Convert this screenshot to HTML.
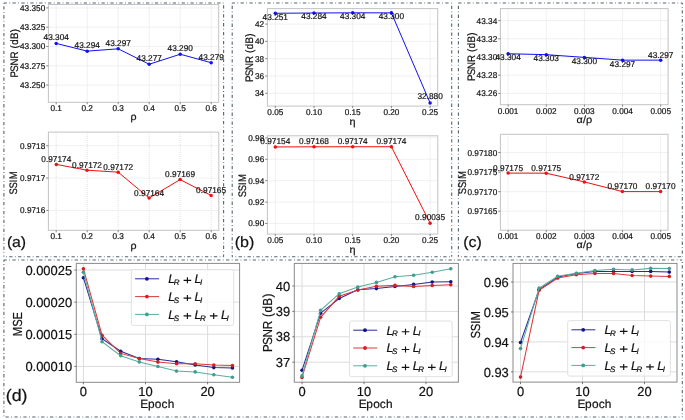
<!DOCTYPE html>
<html><head><meta charset="utf-8"><style>
html,body{margin:0;padding:0;background:#fff;}
svg{display:block;font-family:"Liberation Sans", sans-serif;will-change:transform;filter:blur(0.3px);}
text{stroke:#111;stroke-width:0.2px;text-rendering:geometricPrecision;}
</style></head><body>
<svg width="685" height="420" viewBox="0 0 685 420">
<rect width="685" height="420" fill="#fff"/>
<line x1="3.9" y1="3.0" x2="223.6" y2="3.0" stroke="#34495a" stroke-width="1.1" stroke-dasharray="3.3 2.4 0.8 2.4" stroke-dashoffset="0.3" opacity="0.85"/>
<line x1="3.9" y1="256.8" x2="223.6" y2="256.8" stroke="#34495a" stroke-width="1.1" stroke-dasharray="3.3 2.4 0.8 2.4" stroke-dashoffset="3.6" opacity="0.85"/>
<line x1="3.9" y1="3.0" x2="3.9" y2="256.8" stroke="#34495a" stroke-width="1.1" stroke-dasharray="3.3 2.4 0.8 2.4" stroke-dashoffset="5.7" opacity="0.85"/>
<line x1="223.6" y1="3.0" x2="223.6" y2="256.8" stroke="#34495a" stroke-width="1.1" stroke-dasharray="3.3 2.4 0.8 2.4" stroke-dashoffset="6.6" opacity="0.85"/>
<line x1="56.20" y1="4.5" x2="56.20" y2="102.3" stroke="#d4d4d4" stroke-width="0.75" stroke-dasharray="0.9 1.1"/>
<line x1="87.20" y1="4.5" x2="87.20" y2="102.3" stroke="#d4d4d4" stroke-width="0.75" stroke-dasharray="0.9 1.1"/>
<line x1="118.20" y1="4.5" x2="118.20" y2="102.3" stroke="#d4d4d4" stroke-width="0.75" stroke-dasharray="0.9 1.1"/>
<line x1="149.20" y1="4.5" x2="149.20" y2="102.3" stroke="#d4d4d4" stroke-width="0.75" stroke-dasharray="0.9 1.1"/>
<line x1="180.20" y1="4.5" x2="180.20" y2="102.3" stroke="#d4d4d4" stroke-width="0.75" stroke-dasharray="0.9 1.1"/>
<line x1="211.20" y1="4.5" x2="211.20" y2="102.3" stroke="#d4d4d4" stroke-width="0.75" stroke-dasharray="0.9 1.1"/>
<line x1="48.4" y1="7.90" x2="218.7" y2="7.90" stroke="#d4d4d4" stroke-width="0.75" stroke-dasharray="0.9 1.1"/>
<line x1="48.4" y1="27.20" x2="218.7" y2="27.20" stroke="#d4d4d4" stroke-width="0.75" stroke-dasharray="0.9 1.1"/>
<line x1="48.4" y1="46.50" x2="218.7" y2="46.50" stroke="#d4d4d4" stroke-width="0.75" stroke-dasharray="0.9 1.1"/>
<line x1="48.4" y1="65.80" x2="218.7" y2="65.80" stroke="#d4d4d4" stroke-width="0.75" stroke-dasharray="0.9 1.1"/>
<line x1="48.4" y1="85.10" x2="218.7" y2="85.10" stroke="#d4d4d4" stroke-width="0.75" stroke-dasharray="0.9 1.1"/>
<rect x="48.4" y="4.5" width="170.30" height="97.80" fill="none" stroke="#c4c4c4" stroke-width="1"/>
<line x1="56.20" y1="102.3" x2="56.20" y2="104.3" stroke="#555" stroke-width="0.7"/>
<g transform="translate(56.20,111.29)"><text transform="scale(0.9862,1)" x="-5.81 -1.16 1.16" y="0" font-size="8.35" fill="#111">0.1</text></g>
<line x1="87.20" y1="102.3" x2="87.20" y2="104.3" stroke="#555" stroke-width="0.7"/>
<g transform="translate(87.20,111.29)"><text transform="scale(0.9862,1)" x="-5.81 -1.16 1.16" y="0" font-size="8.35" fill="#111">0.2</text></g>
<line x1="118.20" y1="102.3" x2="118.20" y2="104.3" stroke="#555" stroke-width="0.7"/>
<g transform="translate(118.20,111.29)"><text transform="scale(0.9862,1)" x="-5.81 -1.16 1.16" y="0" font-size="8.35" fill="#111">0.3</text></g>
<line x1="149.20" y1="102.3" x2="149.20" y2="104.3" stroke="#555" stroke-width="0.7"/>
<g transform="translate(149.20,111.29)"><text transform="scale(0.9862,1)" x="-5.81 -1.16 1.16" y="0" font-size="8.35" fill="#111">0.4</text></g>
<line x1="180.20" y1="102.3" x2="180.20" y2="104.3" stroke="#555" stroke-width="0.7"/>
<g transform="translate(180.20,111.29)"><text transform="scale(0.9862,1)" x="-5.81 -1.16 1.16" y="0" font-size="8.35" fill="#111">0.5</text></g>
<line x1="211.20" y1="102.3" x2="211.20" y2="104.3" stroke="#555" stroke-width="0.7"/>
<g transform="translate(211.20,111.29)"><text transform="scale(0.9862,1)" x="-5.81 -1.16 1.16" y="0" font-size="8.35" fill="#111">0.6</text></g>
<line x1="46.20" y1="7.90" x2="48.4" y2="7.90" stroke="#555" stroke-width="0.7"/>
<g transform="translate(45.20,10.89)"><text transform="scale(0.9862,1)" x="-25.55 -20.90 -16.26 -13.93 -9.29 -4.64" y="0" font-size="8.35" fill="#111">43.350</text></g>
<line x1="46.20" y1="27.20" x2="48.4" y2="27.20" stroke="#555" stroke-width="0.7"/>
<g transform="translate(45.20,30.19)"><text transform="scale(0.9862,1)" x="-25.55 -20.90 -16.26 -13.93 -9.29 -4.64" y="0" font-size="8.35" fill="#111">43.325</text></g>
<line x1="46.20" y1="46.50" x2="48.4" y2="46.50" stroke="#555" stroke-width="0.7"/>
<g transform="translate(45.20,49.49)"><text transform="scale(0.9862,1)" x="-25.55 -20.90 -16.26 -13.93 -9.29 -4.64" y="0" font-size="8.35" fill="#111">43.300</text></g>
<line x1="46.20" y1="65.80" x2="48.4" y2="65.80" stroke="#555" stroke-width="0.7"/>
<g transform="translate(45.20,68.79)"><text transform="scale(0.9862,1)" x="-25.55 -20.90 -16.26 -13.93 -9.29 -4.64" y="0" font-size="8.35" fill="#111">43.275</text></g>
<line x1="46.20" y1="85.10" x2="48.4" y2="85.10" stroke="#555" stroke-width="0.7"/>
<g transform="translate(45.20,88.09)"><text transform="scale(0.9862,1)" x="-25.55 -20.90 -16.26 -13.93 -9.29 -4.64" y="0" font-size="8.35" fill="#111">43.250</text></g>
<g transform="translate(133.60,120.43)"><text transform="scale(1.0332,1)" x="-2.92" y="0" font-size="10.26" fill="#111">ρ</text></g>
<g transform="translate(13.80,53.00) rotate(-90) translate(0,3.74)"><text transform="scale(0.9008,1)" x="-27.34 -20.81 -13.82 -6.21 1.55 4.98 9.17 15.53 23.02" y="0" font-size="10.88" fill="#111">PSNR (dB)</text></g>
<path d="M56.20,43.41 L87.20,51.13 L118.20,48.82 L149.20,64.26 L180.20,54.22 L211.20,62.71" fill="none" stroke="#1010f0" stroke-width="1.0"/>
<circle cx="56.20" cy="43.41" r="1.75" fill="#1010f0"/>
<circle cx="87.20" cy="51.13" r="1.75" fill="#1010f0"/>
<circle cx="118.20" cy="48.82" r="1.75" fill="#1010f0"/>
<circle cx="149.20" cy="64.26" r="1.75" fill="#1010f0"/>
<circle cx="180.20" cy="54.22" r="1.75" fill="#1010f0"/>
<circle cx="211.20" cy="62.71" r="1.75" fill="#1010f0"/>
<g transform="translate(56.20,40.21)"><text transform="scale(0.9862,1)" x="-12.86 -8.18 -3.51 -1.17 3.51 8.18" y="0" font-size="8.41" fill="#111">43.304</text></g>
<g transform="translate(87.20,47.93)"><text transform="scale(0.9862,1)" x="-12.86 -8.18 -3.51 -1.17 3.51 8.18" y="0" font-size="8.41" fill="#111">43.294</text></g>
<g transform="translate(118.20,45.62)"><text transform="scale(0.9862,1)" x="-12.86 -8.18 -3.51 -1.17 3.51 8.18" y="0" font-size="8.41" fill="#111">43.297</text></g>
<g transform="translate(149.20,61.06)"><text transform="scale(0.9862,1)" x="-12.86 -8.18 -3.51 -1.17 3.51 8.18" y="0" font-size="8.41" fill="#111">43.277</text></g>
<g transform="translate(180.20,51.02)"><text transform="scale(0.9862,1)" x="-12.86 -8.18 -3.51 -1.17 3.51 8.18" y="0" font-size="8.41" fill="#111">43.290</text></g>
<g transform="translate(211.20,59.51)"><text transform="scale(0.9862,1)" x="-12.86 -8.18 -3.51 -1.17 3.51 8.18" y="0" font-size="8.41" fill="#111">43.279</text></g>
<line x1="56.20" y1="132.1" x2="56.20" y2="230.3" stroke="#d4d4d4" stroke-width="0.75" stroke-dasharray="0.9 1.1"/>
<line x1="87.20" y1="132.1" x2="87.20" y2="230.3" stroke="#d4d4d4" stroke-width="0.75" stroke-dasharray="0.9 1.1"/>
<line x1="118.20" y1="132.1" x2="118.20" y2="230.3" stroke="#d4d4d4" stroke-width="0.75" stroke-dasharray="0.9 1.1"/>
<line x1="149.20" y1="132.1" x2="149.20" y2="230.3" stroke="#d4d4d4" stroke-width="0.75" stroke-dasharray="0.9 1.1"/>
<line x1="180.20" y1="132.1" x2="180.20" y2="230.3" stroke="#d4d4d4" stroke-width="0.75" stroke-dasharray="0.9 1.1"/>
<line x1="211.20" y1="132.1" x2="211.20" y2="230.3" stroke="#d4d4d4" stroke-width="0.75" stroke-dasharray="0.9 1.1"/>
<line x1="48.4" y1="145.70" x2="218.8" y2="145.70" stroke="#d4d4d4" stroke-width="0.75" stroke-dasharray="0.9 1.1"/>
<line x1="48.4" y1="178.05" x2="218.8" y2="178.05" stroke="#d4d4d4" stroke-width="0.75" stroke-dasharray="0.9 1.1"/>
<line x1="48.4" y1="210.40" x2="218.8" y2="210.40" stroke="#d4d4d4" stroke-width="0.75" stroke-dasharray="0.9 1.1"/>
<rect x="48.4" y="132.1" width="170.40" height="98.20" fill="none" stroke="#c4c4c4" stroke-width="1"/>
<line x1="56.20" y1="230.3" x2="56.20" y2="232.3" stroke="#555" stroke-width="0.7"/>
<g transform="translate(56.20,239.29)"><text transform="scale(0.9862,1)" x="-5.81 -1.16 1.16" y="0" font-size="8.35" fill="#111">0.1</text></g>
<line x1="87.20" y1="230.3" x2="87.20" y2="232.3" stroke="#555" stroke-width="0.7"/>
<g transform="translate(87.20,239.29)"><text transform="scale(0.9862,1)" x="-5.81 -1.16 1.16" y="0" font-size="8.35" fill="#111">0.2</text></g>
<line x1="118.20" y1="230.3" x2="118.20" y2="232.3" stroke="#555" stroke-width="0.7"/>
<g transform="translate(118.20,239.29)"><text transform="scale(0.9862,1)" x="-5.81 -1.16 1.16" y="0" font-size="8.35" fill="#111">0.3</text></g>
<line x1="149.20" y1="230.3" x2="149.20" y2="232.3" stroke="#555" stroke-width="0.7"/>
<g transform="translate(149.20,239.29)"><text transform="scale(0.9862,1)" x="-5.81 -1.16 1.16" y="0" font-size="8.35" fill="#111">0.4</text></g>
<line x1="180.20" y1="230.3" x2="180.20" y2="232.3" stroke="#555" stroke-width="0.7"/>
<g transform="translate(180.20,239.29)"><text transform="scale(0.9862,1)" x="-5.81 -1.16 1.16" y="0" font-size="8.35" fill="#111">0.5</text></g>
<line x1="211.20" y1="230.3" x2="211.20" y2="232.3" stroke="#555" stroke-width="0.7"/>
<g transform="translate(211.20,239.29)"><text transform="scale(0.9862,1)" x="-5.81 -1.16 1.16" y="0" font-size="8.35" fill="#111">0.6</text></g>
<line x1="46.20" y1="145.70" x2="48.4" y2="145.70" stroke="#555" stroke-width="0.7"/>
<g transform="translate(45.20,148.69)"><text transform="scale(0.9862,1)" x="-25.55 -20.90 -18.58 -13.93 -9.29 -4.64" y="0" font-size="8.35" fill="#111">0.9718</text></g>
<line x1="46.20" y1="178.05" x2="48.4" y2="178.05" stroke="#555" stroke-width="0.7"/>
<g transform="translate(45.20,181.04)"><text transform="scale(0.9862,1)" x="-25.55 -20.90 -18.58 -13.93 -9.29 -4.64" y="0" font-size="8.35" fill="#111">0.9717</text></g>
<line x1="46.20" y1="210.40" x2="48.4" y2="210.40" stroke="#555" stroke-width="0.7"/>
<g transform="translate(45.20,213.39)"><text transform="scale(0.9862,1)" x="-25.55 -20.90 -18.58 -13.93 -9.29 -4.64" y="0" font-size="8.35" fill="#111">0.9716</text></g>
<g transform="translate(133.60,248.83)"><text transform="scale(1.0332,1)" x="-2.92" y="0" font-size="10.26" fill="#111">ρ</text></g>
<g transform="translate(13.60,182.80) rotate(-90) translate(0,3.74)"><text transform="scale(0.8672,1)" x="-13.44 -6.49 0.72 4.04" y="0" font-size="10.88" fill="#111">SSIM</text></g>
<path d="M56.30,164.40 L87.00,170.20 L118.20,172.20 L149.10,198.00 L180.10,179.60 L211.10,195.40" fill="none" stroke="#f01010" stroke-width="1.0"/>
<circle cx="56.30" cy="164.40" r="1.75" fill="#f01010"/>
<circle cx="87.00" cy="170.20" r="1.75" fill="#f01010"/>
<circle cx="118.20" cy="172.20" r="1.75" fill="#f01010"/>
<circle cx="149.10" cy="198.00" r="1.75" fill="#f01010"/>
<circle cx="180.10" cy="179.60" r="1.75" fill="#f01010"/>
<circle cx="211.10" cy="195.40" r="1.75" fill="#f01010"/>
<g transform="translate(56.30,161.90)"><text transform="scale(0.9862,1)" x="-15.20 -10.52 -8.19 -3.51 1.17 5.85 10.52" y="0" font-size="8.41" fill="#111">0.97174</text></g>
<g transform="translate(87.00,167.70)"><text transform="scale(0.9862,1)" x="-15.20 -10.52 -8.19 -3.51 1.17 5.85 10.52" y="0" font-size="8.41" fill="#111">0.97172</text></g>
<g transform="translate(118.20,169.70)"><text transform="scale(0.9862,1)" x="-15.20 -10.52 -8.19 -3.51 1.17 5.85 10.52" y="0" font-size="8.41" fill="#111">0.97172</text></g>
<g transform="translate(149.10,195.50)"><text transform="scale(0.9862,1)" x="-15.20 -10.52 -8.19 -3.51 1.17 5.85 10.52" y="0" font-size="8.41" fill="#111">0.97164</text></g>
<g transform="translate(180.10,177.10)"><text transform="scale(0.9862,1)" x="-15.20 -10.52 -8.19 -3.51 1.17 5.85 10.52" y="0" font-size="8.41" fill="#111">0.97169</text></g>
<g transform="translate(211.10,192.90)"><text transform="scale(0.9862,1)" x="-15.20 -10.52 -8.19 -3.51 1.17 5.85 10.52" y="0" font-size="8.41" fill="#111">0.97165</text></g>
<g transform="translate(16.50,246.96)"><text transform="scale(1.0554,1)" x="-9.10 -4.17 4.10" y="0" font-size="15.01" fill="#111">(a)</text></g>
<line x1="232.2" y1="3.0" x2="451.7" y2="3.0" stroke="#34495a" stroke-width="1.1" stroke-dasharray="3.3 2.4 0.8 2.4" stroke-dashoffset="0.5" opacity="0.85"/>
<line x1="232.2" y1="256.8" x2="451.7" y2="256.8" stroke="#34495a" stroke-width="1.1" stroke-dasharray="3.3 2.4 0.8 2.4" stroke-dashoffset="2.5" opacity="0.85"/>
<line x1="232.2" y1="3.0" x2="232.2" y2="256.8" stroke="#34495a" stroke-width="1.1" stroke-dasharray="3.3 2.4 0.8 2.4" stroke-dashoffset="6.1" opacity="0.85"/>
<line x1="451.7" y1="3.0" x2="451.7" y2="256.8" stroke="#34495a" stroke-width="1.1" stroke-dasharray="3.3 2.4 0.8 2.4" stroke-dashoffset="6.2" opacity="0.85"/>
<line x1="275.30" y1="8.6" x2="275.30" y2="106.1" stroke="#d4d4d4" stroke-width="0.75" stroke-dasharray="0.9 1.1"/>
<line x1="314.00" y1="8.6" x2="314.00" y2="106.1" stroke="#d4d4d4" stroke-width="0.75" stroke-dasharray="0.9 1.1"/>
<line x1="352.70" y1="8.6" x2="352.70" y2="106.1" stroke="#d4d4d4" stroke-width="0.75" stroke-dasharray="0.9 1.1"/>
<line x1="391.40" y1="8.6" x2="391.40" y2="106.1" stroke="#d4d4d4" stroke-width="0.75" stroke-dasharray="0.9 1.1"/>
<line x1="430.10" y1="8.6" x2="430.10" y2="106.1" stroke="#d4d4d4" stroke-width="0.75" stroke-dasharray="0.9 1.1"/>
<line x1="267.4" y1="24.10" x2="437.7" y2="24.10" stroke="#d4d4d4" stroke-width="0.75" stroke-dasharray="0.9 1.1"/>
<line x1="267.4" y1="41.40" x2="437.7" y2="41.40" stroke="#d4d4d4" stroke-width="0.75" stroke-dasharray="0.9 1.1"/>
<line x1="267.4" y1="58.70" x2="437.7" y2="58.70" stroke="#d4d4d4" stroke-width="0.75" stroke-dasharray="0.9 1.1"/>
<line x1="267.4" y1="76.00" x2="437.7" y2="76.00" stroke="#d4d4d4" stroke-width="0.75" stroke-dasharray="0.9 1.1"/>
<line x1="267.4" y1="93.30" x2="437.7" y2="93.30" stroke="#d4d4d4" stroke-width="0.75" stroke-dasharray="0.9 1.1"/>
<rect x="267.4" y="8.6" width="170.30" height="97.50" fill="none" stroke="#c4c4c4" stroke-width="1"/>
<line x1="275.30" y1="106.1" x2="275.30" y2="108.1" stroke="#555" stroke-width="0.7"/>
<g transform="translate(275.30,115.09)"><text transform="scale(0.9862,1)" x="-8.13 -3.48 -1.16 3.48" y="0" font-size="8.35" fill="#111">0.05</text></g>
<line x1="314.00" y1="106.1" x2="314.00" y2="108.1" stroke="#555" stroke-width="0.7"/>
<g transform="translate(314.00,115.09)"><text transform="scale(0.9862,1)" x="-8.13 -3.48 -1.16 3.48" y="0" font-size="8.35" fill="#111">0.10</text></g>
<line x1="352.70" y1="106.1" x2="352.70" y2="108.1" stroke="#555" stroke-width="0.7"/>
<g transform="translate(352.70,115.09)"><text transform="scale(0.9862,1)" x="-8.13 -3.48 -1.16 3.48" y="0" font-size="8.35" fill="#111">0.15</text></g>
<line x1="391.40" y1="106.1" x2="391.40" y2="108.1" stroke="#555" stroke-width="0.7"/>
<g transform="translate(391.40,115.09)"><text transform="scale(0.9862,1)" x="-8.13 -3.48 -1.16 3.48" y="0" font-size="8.35" fill="#111">0.20</text></g>
<line x1="430.10" y1="106.1" x2="430.10" y2="108.1" stroke="#555" stroke-width="0.7"/>
<g transform="translate(430.10,115.09)"><text transform="scale(0.9862,1)" x="-8.13 -3.48 -1.16 3.48" y="0" font-size="8.35" fill="#111">0.25</text></g>
<line x1="265.20" y1="24.10" x2="267.4" y2="24.10" stroke="#555" stroke-width="0.7"/>
<g transform="translate(264.20,27.09)"><text transform="scale(0.9862,1)" x="-9.29 -4.65" y="0" font-size="8.35" fill="#111">42</text></g>
<line x1="265.20" y1="41.40" x2="267.4" y2="41.40" stroke="#555" stroke-width="0.7"/>
<g transform="translate(264.20,44.39)"><text transform="scale(0.9862,1)" x="-9.29 -4.65" y="0" font-size="8.35" fill="#111">40</text></g>
<line x1="265.20" y1="58.70" x2="267.4" y2="58.70" stroke="#555" stroke-width="0.7"/>
<g transform="translate(264.20,61.69)"><text transform="scale(0.9862,1)" x="-9.29 -4.65" y="0" font-size="8.35" fill="#111">38</text></g>
<line x1="265.20" y1="76.00" x2="267.4" y2="76.00" stroke="#555" stroke-width="0.7"/>
<g transform="translate(264.20,78.99)"><text transform="scale(0.9862,1)" x="-9.29 -4.65" y="0" font-size="8.35" fill="#111">36</text></g>
<line x1="265.20" y1="93.30" x2="267.4" y2="93.30" stroke="#555" stroke-width="0.7"/>
<g transform="translate(264.20,96.29)"><text transform="scale(0.9862,1)" x="-9.29 -4.65" y="0" font-size="8.35" fill="#111">34</text></g>
<g transform="translate(352.50,125.13)"><text transform="scale(1.0552,1)" x="-2.85" y="0" font-size="10.26" fill="#111">η</text></g>
<g transform="translate(249.30,57.50) rotate(-90) translate(0,3.74)"><text transform="scale(0.9008,1)" x="-27.34 -20.81 -13.82 -6.21 1.55 4.98 9.17 15.53 23.02" y="0" font-size="10.88" fill="#111">PSNR (dB)</text></g>
<path d="M275.30,13.28 L314.00,12.99 L352.70,12.82 L391.40,12.86 L430.10,102.99" fill="none" stroke="#1010f0" stroke-width="1.0"/>
<circle cx="275.30" cy="13.28" r="1.75" fill="#1010f0"/>
<circle cx="314.00" cy="12.99" r="1.75" fill="#1010f0"/>
<circle cx="352.70" cy="12.82" r="1.75" fill="#1010f0"/>
<circle cx="391.40" cy="12.86" r="1.75" fill="#1010f0"/>
<circle cx="430.10" cy="102.99" r="1.75" fill="#1010f0"/>
<g transform="translate(275.30,19.58)"><text transform="scale(0.9862,1)" x="-12.86 -8.18 -3.51 -1.17 3.51 8.18" y="0" font-size="8.41" fill="#111">43.251</text></g>
<g transform="translate(314.00,19.29)"><text transform="scale(0.9862,1)" x="-12.86 -8.18 -3.51 -1.17 3.51 8.18" y="0" font-size="8.41" fill="#111">43.284</text></g>
<g transform="translate(352.70,19.12)"><text transform="scale(0.9862,1)" x="-12.86 -8.18 -3.51 -1.17 3.51 8.18" y="0" font-size="8.41" fill="#111">43.304</text></g>
<g transform="translate(391.40,19.16)"><text transform="scale(0.9862,1)" x="-12.86 -8.18 -3.51 -1.17 3.51 8.18" y="0" font-size="8.41" fill="#111">43.300</text></g>
<g transform="translate(430.10,99.39)"><text transform="scale(0.9862,1)" x="-12.86 -8.18 -3.51 -1.17 3.51 8.18" y="0" font-size="8.41" fill="#111">32.880</text></g>
<line x1="275.30" y1="135.8" x2="275.30" y2="234.1" stroke="#d4d4d4" stroke-width="0.75" stroke-dasharray="0.9 1.1"/>
<line x1="314.00" y1="135.8" x2="314.00" y2="234.1" stroke="#d4d4d4" stroke-width="0.75" stroke-dasharray="0.9 1.1"/>
<line x1="352.70" y1="135.8" x2="352.70" y2="234.1" stroke="#d4d4d4" stroke-width="0.75" stroke-dasharray="0.9 1.1"/>
<line x1="391.40" y1="135.8" x2="391.40" y2="234.1" stroke="#d4d4d4" stroke-width="0.75" stroke-dasharray="0.9 1.1"/>
<line x1="430.10" y1="135.8" x2="430.10" y2="234.1" stroke="#d4d4d4" stroke-width="0.75" stroke-dasharray="0.9 1.1"/>
<line x1="267.4" y1="137.90" x2="437.8" y2="137.90" stroke="#d4d4d4" stroke-width="0.75" stroke-dasharray="0.9 1.1"/>
<line x1="267.4" y1="159.30" x2="437.8" y2="159.30" stroke="#d4d4d4" stroke-width="0.75" stroke-dasharray="0.9 1.1"/>
<line x1="267.4" y1="180.70" x2="437.8" y2="180.70" stroke="#d4d4d4" stroke-width="0.75" stroke-dasharray="0.9 1.1"/>
<line x1="267.4" y1="202.10" x2="437.8" y2="202.10" stroke="#d4d4d4" stroke-width="0.75" stroke-dasharray="0.9 1.1"/>
<line x1="267.4" y1="223.50" x2="437.8" y2="223.50" stroke="#d4d4d4" stroke-width="0.75" stroke-dasharray="0.9 1.1"/>
<rect x="267.4" y="135.8" width="170.40" height="98.30" fill="none" stroke="#c4c4c4" stroke-width="1"/>
<line x1="275.30" y1="234.1" x2="275.30" y2="236.1" stroke="#555" stroke-width="0.7"/>
<g transform="translate(275.30,243.09)"><text transform="scale(0.9862,1)" x="-8.13 -3.48 -1.16 3.48" y="0" font-size="8.35" fill="#111">0.05</text></g>
<line x1="314.00" y1="234.1" x2="314.00" y2="236.1" stroke="#555" stroke-width="0.7"/>
<g transform="translate(314.00,243.09)"><text transform="scale(0.9862,1)" x="-8.13 -3.48 -1.16 3.48" y="0" font-size="8.35" fill="#111">0.10</text></g>
<line x1="352.70" y1="234.1" x2="352.70" y2="236.1" stroke="#555" stroke-width="0.7"/>
<g transform="translate(352.70,243.09)"><text transform="scale(0.9862,1)" x="-8.13 -3.48 -1.16 3.48" y="0" font-size="8.35" fill="#111">0.15</text></g>
<line x1="391.40" y1="234.1" x2="391.40" y2="236.1" stroke="#555" stroke-width="0.7"/>
<g transform="translate(391.40,243.09)"><text transform="scale(0.9862,1)" x="-8.13 -3.48 -1.16 3.48" y="0" font-size="8.35" fill="#111">0.20</text></g>
<line x1="430.10" y1="234.1" x2="430.10" y2="236.1" stroke="#555" stroke-width="0.7"/>
<g transform="translate(430.10,243.09)"><text transform="scale(0.9862,1)" x="-8.13 -3.48 -1.16 3.48" y="0" font-size="8.35" fill="#111">0.25</text></g>
<line x1="265.20" y1="137.90" x2="267.4" y2="137.90" stroke="#555" stroke-width="0.7"/>
<g transform="translate(264.20,140.89)"><text transform="scale(0.9862,1)" x="-16.26 -11.61 -9.29 -4.64" y="0" font-size="8.35" fill="#111">0.98</text></g>
<line x1="265.20" y1="159.30" x2="267.4" y2="159.30" stroke="#555" stroke-width="0.7"/>
<g transform="translate(264.20,162.29)"><text transform="scale(0.9862,1)" x="-16.26 -11.61 -9.29 -4.64" y="0" font-size="8.35" fill="#111">0.96</text></g>
<line x1="265.20" y1="180.70" x2="267.4" y2="180.70" stroke="#555" stroke-width="0.7"/>
<g transform="translate(264.20,183.69)"><text transform="scale(0.9862,1)" x="-16.26 -11.61 -9.29 -4.64" y="0" font-size="8.35" fill="#111">0.94</text></g>
<line x1="265.20" y1="202.10" x2="267.4" y2="202.10" stroke="#555" stroke-width="0.7"/>
<g transform="translate(264.20,205.09)"><text transform="scale(0.9862,1)" x="-16.26 -11.61 -9.29 -4.64" y="0" font-size="8.35" fill="#111">0.92</text></g>
<line x1="265.20" y1="223.50" x2="267.4" y2="223.50" stroke="#555" stroke-width="0.7"/>
<g transform="translate(264.20,226.49)"><text transform="scale(0.9862,1)" x="-16.26 -11.61 -9.29 -4.64" y="0" font-size="8.35" fill="#111">0.90</text></g>
<g transform="translate(352.50,252.73)"><text transform="scale(1.0552,1)" x="-2.85" y="0" font-size="10.26" fill="#111">η</text></g>
<g transform="translate(242.60,185.60) rotate(-90) translate(0,3.74)"><text transform="scale(0.8672,1)" x="-13.44 -6.49 0.72 4.04" y="0" font-size="10.88" fill="#111">SSIM</text></g>
<path d="M275.30,146.95 L314.00,146.80 L352.70,146.74 L391.40,146.74 L430.10,223.13" fill="none" stroke="#f01010" stroke-width="1.0"/>
<circle cx="275.30" cy="146.95" r="1.75" fill="#f01010"/>
<circle cx="314.00" cy="146.80" r="1.75" fill="#f01010"/>
<circle cx="352.70" cy="146.74" r="1.75" fill="#f01010"/>
<circle cx="391.40" cy="146.74" r="1.75" fill="#f01010"/>
<circle cx="430.10" cy="223.13" r="1.75" fill="#f01010"/>
<g transform="translate(275.30,144.05)"><text transform="scale(0.9862,1)" x="-15.20 -10.52 -8.19 -3.51 1.17 5.85 10.52" y="0" font-size="8.41" fill="#111">0.97154</text></g>
<g transform="translate(314.00,143.90)"><text transform="scale(0.9862,1)" x="-15.20 -10.52 -8.19 -3.51 1.17 5.85 10.52" y="0" font-size="8.41" fill="#111">0.97168</text></g>
<g transform="translate(352.70,143.84)"><text transform="scale(0.9862,1)" x="-15.20 -10.52 -8.19 -3.51 1.17 5.85 10.52" y="0" font-size="8.41" fill="#111">0.97174</text></g>
<g transform="translate(391.40,143.84)"><text transform="scale(0.9862,1)" x="-15.20 -10.52 -8.19 -3.51 1.17 5.85 10.52" y="0" font-size="8.41" fill="#111">0.97174</text></g>
<g transform="translate(430.10,220.23)"><text transform="scale(0.9862,1)" x="-15.20 -10.52 -8.19 -3.51 1.17 5.85 10.52" y="0" font-size="8.41" fill="#111">0.90035</text></g>
<g transform="translate(244.50,246.66)"><text transform="scale(1.0720,1)" x="-9.14 -4.17 4.14" y="0" font-size="15.01" fill="#111">(b)</text></g>
<line x1="458.4" y1="3.0" x2="682.3" y2="3.0" stroke="#34495a" stroke-width="1.1" stroke-dasharray="3.3 2.4 0.8 2.4" stroke-dashoffset="0.2" opacity="0.85"/>
<line x1="458.4" y1="256.8" x2="682.3" y2="256.8" stroke="#34495a" stroke-width="1.1" stroke-dasharray="3.3 2.4 0.8 2.4" stroke-dashoffset="3.2" opacity="0.85"/>
<line x1="458.4" y1="3.0" x2="458.4" y2="256.8" stroke="#34495a" stroke-width="1.1" stroke-dasharray="3.3 2.4 0.8 2.4" stroke-dashoffset="6.2" opacity="0.85"/>
<line x1="682.3" y1="3.0" x2="682.3" y2="256.8" stroke="#34495a" stroke-width="1.1" stroke-dasharray="3.3 2.4 0.8 2.4" stroke-dashoffset="1.7" opacity="0.85"/>
<line x1="508.10" y1="8.6" x2="508.10" y2="104.7" stroke="#d4d4d4" stroke-width="0.75" stroke-dasharray="0.9 1.1"/>
<line x1="546.25" y1="8.6" x2="546.25" y2="104.7" stroke="#d4d4d4" stroke-width="0.75" stroke-dasharray="0.9 1.1"/>
<line x1="584.40" y1="8.6" x2="584.40" y2="104.7" stroke="#d4d4d4" stroke-width="0.75" stroke-dasharray="0.9 1.1"/>
<line x1="622.55" y1="8.6" x2="622.55" y2="104.7" stroke="#d4d4d4" stroke-width="0.75" stroke-dasharray="0.9 1.1"/>
<line x1="660.70" y1="8.6" x2="660.70" y2="104.7" stroke="#d4d4d4" stroke-width="0.75" stroke-dasharray="0.9 1.1"/>
<line x1="500.4" y1="20.60" x2="668.1" y2="20.60" stroke="#d4d4d4" stroke-width="0.75" stroke-dasharray="0.9 1.1"/>
<line x1="500.4" y1="38.80" x2="668.1" y2="38.80" stroke="#d4d4d4" stroke-width="0.75" stroke-dasharray="0.9 1.1"/>
<line x1="500.4" y1="57.00" x2="668.1" y2="57.00" stroke="#d4d4d4" stroke-width="0.75" stroke-dasharray="0.9 1.1"/>
<line x1="500.4" y1="75.20" x2="668.1" y2="75.20" stroke="#d4d4d4" stroke-width="0.75" stroke-dasharray="0.9 1.1"/>
<line x1="500.4" y1="93.40" x2="668.1" y2="93.40" stroke="#d4d4d4" stroke-width="0.75" stroke-dasharray="0.9 1.1"/>
<rect x="500.4" y="8.6" width="167.70" height="96.10" fill="none" stroke="#c4c4c4" stroke-width="1"/>
<line x1="508.10" y1="104.7" x2="508.10" y2="106.7" stroke="#555" stroke-width="0.7"/>
<g transform="translate(508.10,113.69)"><text transform="scale(0.9862,1)" x="-10.45 -5.81 -3.48 1.16 5.81" y="0" font-size="8.35" fill="#111">0.001</text></g>
<line x1="546.25" y1="104.7" x2="546.25" y2="106.7" stroke="#555" stroke-width="0.7"/>
<g transform="translate(546.25,113.69)"><text transform="scale(0.9862,1)" x="-10.45 -5.81 -3.48 1.16 5.81" y="0" font-size="8.35" fill="#111">0.002</text></g>
<line x1="584.40" y1="104.7" x2="584.40" y2="106.7" stroke="#555" stroke-width="0.7"/>
<g transform="translate(584.40,113.69)"><text transform="scale(0.9862,1)" x="-10.45 -5.81 -3.48 1.16 5.81" y="0" font-size="8.35" fill="#111">0.003</text></g>
<line x1="622.55" y1="104.7" x2="622.55" y2="106.7" stroke="#555" stroke-width="0.7"/>
<g transform="translate(622.55,113.69)"><text transform="scale(0.9862,1)" x="-10.45 -5.81 -3.48 1.16 5.81" y="0" font-size="8.35" fill="#111">0.004</text></g>
<line x1="660.70" y1="104.7" x2="660.70" y2="106.7" stroke="#555" stroke-width="0.7"/>
<g transform="translate(660.70,113.69)"><text transform="scale(0.9862,1)" x="-10.45 -5.81 -3.48 1.16 5.81" y="0" font-size="8.35" fill="#111">0.005</text></g>
<line x1="498.20" y1="20.60" x2="500.4" y2="20.60" stroke="#555" stroke-width="0.7"/>
<g transform="translate(497.20,23.59)"><text transform="scale(0.9862,1)" x="-20.90 -16.26 -11.61 -9.29 -4.64" y="0" font-size="8.35" fill="#111">43.34</text></g>
<line x1="498.20" y1="38.80" x2="500.4" y2="38.80" stroke="#555" stroke-width="0.7"/>
<g transform="translate(497.20,41.79)"><text transform="scale(0.9862,1)" x="-20.90 -16.26 -11.61 -9.29 -4.64" y="0" font-size="8.35" fill="#111">43.32</text></g>
<line x1="498.20" y1="57.00" x2="500.4" y2="57.00" stroke="#555" stroke-width="0.7"/>
<g transform="translate(497.20,59.99)"><text transform="scale(0.9862,1)" x="-20.90 -16.26 -11.61 -9.29 -4.64" y="0" font-size="8.35" fill="#111">43.30</text></g>
<line x1="498.20" y1="75.20" x2="500.4" y2="75.20" stroke="#555" stroke-width="0.7"/>
<g transform="translate(497.20,78.19)"><text transform="scale(0.9862,1)" x="-20.90 -16.26 -11.61 -9.29 -4.64" y="0" font-size="8.35" fill="#111">43.28</text></g>
<line x1="498.20" y1="93.40" x2="500.4" y2="93.40" stroke="#555" stroke-width="0.7"/>
<g transform="translate(497.20,96.39)"><text transform="scale(0.9862,1)" x="-20.90 -16.26 -11.61 -9.29 -4.64" y="0" font-size="8.35" fill="#111">43.26</text></g>
<g transform="translate(584.30,122.83)"><text transform="scale(1.0598,1)" x="-7.32 -1.32 1.55" y="0" font-size="10.26" fill="#111">α/ρ</text></g>
<g transform="translate(471.30,56.50) rotate(-90) translate(0,3.74)"><text transform="scale(0.9008,1)" x="-27.34 -20.81 -13.82 -6.21 1.55 4.98 9.17 15.53 23.02" y="0" font-size="10.88" fill="#111">PSNR (dB)</text></g>
<path d="M508.10,53.76 L546.25,54.67 L584.40,57.40 L622.55,60.13 L660.70,60.13" fill="none" stroke="#1010f0" stroke-width="1.0"/>
<circle cx="508.10" cy="53.76" r="1.75" fill="#1010f0"/>
<circle cx="546.25" cy="54.67" r="1.75" fill="#1010f0"/>
<circle cx="584.40" cy="57.40" r="1.75" fill="#1010f0"/>
<circle cx="622.55" cy="60.13" r="1.75" fill="#1010f0"/>
<circle cx="660.70" cy="60.13" r="1.75" fill="#1010f0"/>
<g transform="translate(508.10,60.36)"><text transform="scale(0.9862,1)" x="-12.86 -8.18 -3.51 -1.17 3.51 8.18" y="0" font-size="8.41" fill="#111">43.304</text></g>
<g transform="translate(546.25,61.27)"><text transform="scale(0.9862,1)" x="-12.86 -8.18 -3.51 -1.17 3.51 8.18" y="0" font-size="8.41" fill="#111">43.303</text></g>
<g transform="translate(584.40,64.00)"><text transform="scale(0.9862,1)" x="-12.86 -8.18 -3.51 -1.17 3.51 8.18" y="0" font-size="8.41" fill="#111">43.300</text></g>
<g transform="translate(622.55,66.73)"><text transform="scale(0.9862,1)" x="-12.86 -8.18 -3.51 -1.17 3.51 8.18" y="0" font-size="8.41" fill="#111">43.297</text></g>
<g transform="translate(660.70,57.53)"><text transform="scale(0.9862,1)" x="-12.86 -8.18 -3.51 -1.17 3.51 8.18" y="0" font-size="8.41" fill="#111">43.297</text></g>
<line x1="508.10" y1="134.3" x2="508.10" y2="230.2" stroke="#d4d4d4" stroke-width="0.75" stroke-dasharray="0.9 1.1"/>
<line x1="546.25" y1="134.3" x2="546.25" y2="230.2" stroke="#d4d4d4" stroke-width="0.75" stroke-dasharray="0.9 1.1"/>
<line x1="584.40" y1="134.3" x2="584.40" y2="230.2" stroke="#d4d4d4" stroke-width="0.75" stroke-dasharray="0.9 1.1"/>
<line x1="622.55" y1="134.3" x2="622.55" y2="230.2" stroke="#d4d4d4" stroke-width="0.75" stroke-dasharray="0.9 1.1"/>
<line x1="660.70" y1="134.3" x2="660.70" y2="230.2" stroke="#d4d4d4" stroke-width="0.75" stroke-dasharray="0.9 1.1"/>
<line x1="500.4" y1="152.55" x2="668.0" y2="152.55" stroke="#d4d4d4" stroke-width="0.75" stroke-dasharray="0.9 1.1"/>
<line x1="500.4" y1="172.10" x2="668.0" y2="172.10" stroke="#d4d4d4" stroke-width="0.75" stroke-dasharray="0.9 1.1"/>
<line x1="500.4" y1="191.65" x2="668.0" y2="191.65" stroke="#d4d4d4" stroke-width="0.75" stroke-dasharray="0.9 1.1"/>
<line x1="500.4" y1="211.20" x2="668.0" y2="211.20" stroke="#d4d4d4" stroke-width="0.75" stroke-dasharray="0.9 1.1"/>
<rect x="500.4" y="134.3" width="167.60" height="95.90" fill="none" stroke="#c4c4c4" stroke-width="1"/>
<line x1="508.10" y1="230.2" x2="508.10" y2="232.2" stroke="#555" stroke-width="0.7"/>
<g transform="translate(508.10,239.19)"><text transform="scale(0.9862,1)" x="-10.45 -5.81 -3.48 1.16 5.81" y="0" font-size="8.35" fill="#111">0.001</text></g>
<line x1="546.25" y1="230.2" x2="546.25" y2="232.2" stroke="#555" stroke-width="0.7"/>
<g transform="translate(546.25,239.19)"><text transform="scale(0.9862,1)" x="-10.45 -5.81 -3.48 1.16 5.81" y="0" font-size="8.35" fill="#111">0.002</text></g>
<line x1="584.40" y1="230.2" x2="584.40" y2="232.2" stroke="#555" stroke-width="0.7"/>
<g transform="translate(584.40,239.19)"><text transform="scale(0.9862,1)" x="-10.45 -5.81 -3.48 1.16 5.81" y="0" font-size="8.35" fill="#111">0.003</text></g>
<line x1="622.55" y1="230.2" x2="622.55" y2="232.2" stroke="#555" stroke-width="0.7"/>
<g transform="translate(622.55,239.19)"><text transform="scale(0.9862,1)" x="-10.45 -5.81 -3.48 1.16 5.81" y="0" font-size="8.35" fill="#111">0.004</text></g>
<line x1="660.70" y1="230.2" x2="660.70" y2="232.2" stroke="#555" stroke-width="0.7"/>
<g transform="translate(660.70,239.19)"><text transform="scale(0.9862,1)" x="-10.45 -5.81 -3.48 1.16 5.81" y="0" font-size="8.35" fill="#111">0.005</text></g>
<line x1="498.20" y1="152.55" x2="500.4" y2="152.55" stroke="#555" stroke-width="0.7"/>
<g transform="translate(497.20,155.54)"><text transform="scale(0.9862,1)" x="-30.19 -25.55 -23.22 -18.58 -13.93 -9.29 -4.64" y="0" font-size="8.35" fill="#111">0.97180</text></g>
<line x1="498.20" y1="172.10" x2="500.4" y2="172.10" stroke="#555" stroke-width="0.7"/>
<g transform="translate(497.20,175.09)"><text transform="scale(0.9862,1)" x="-30.19 -25.55 -23.22 -18.58 -13.93 -9.29 -4.64" y="0" font-size="8.35" fill="#111">0.97175</text></g>
<line x1="498.20" y1="191.65" x2="500.4" y2="191.65" stroke="#555" stroke-width="0.7"/>
<g transform="translate(497.20,194.64)"><text transform="scale(0.9862,1)" x="-30.19 -25.55 -23.22 -18.58 -13.93 -9.29 -4.64" y="0" font-size="8.35" fill="#111">0.97170</text></g>
<line x1="498.20" y1="211.20" x2="500.4" y2="211.20" stroke="#555" stroke-width="0.7"/>
<g transform="translate(497.20,214.19)"><text transform="scale(0.9862,1)" x="-30.19 -25.55 -23.22 -18.58 -13.93 -9.29 -4.64" y="0" font-size="8.35" fill="#111">0.97165</text></g>
<g transform="translate(584.30,248.23)"><text transform="scale(1.0598,1)" x="-7.32 -1.32 1.55" y="0" font-size="10.26" fill="#111">α/ρ</text></g>
<g transform="translate(462.30,182.50) rotate(-90) translate(0,3.74)"><text transform="scale(0.8672,1)" x="-13.44 -6.49 0.72 4.04" y="0" font-size="10.88" fill="#111">SSIM</text></g>
<path d="M508.10,173.10 L546.20,173.20 L584.30,181.90 L622.40,191.60 L660.60,191.60" fill="none" stroke="#f01010" stroke-width="1.0"/>
<circle cx="508.10" cy="173.10" r="1.75" fill="#f01010"/>
<circle cx="546.20" cy="173.20" r="1.75" fill="#f01010"/>
<circle cx="584.30" cy="181.90" r="1.75" fill="#f01010"/>
<circle cx="622.40" cy="191.60" r="1.75" fill="#f01010"/>
<circle cx="660.60" cy="191.60" r="1.75" fill="#f01010"/>
<g transform="translate(508.10,170.90)"><text transform="scale(0.9862,1)" x="-15.20 -10.52 -8.19 -3.51 1.17 5.85 10.52" y="0" font-size="8.41" fill="#111">0.97175</text></g>
<g transform="translate(546.20,171.00)"><text transform="scale(0.9862,1)" x="-15.20 -10.52 -8.19 -3.51 1.17 5.85 10.52" y="0" font-size="8.41" fill="#111">0.97175</text></g>
<g transform="translate(584.30,179.70)"><text transform="scale(0.9862,1)" x="-15.20 -10.52 -8.19 -3.51 1.17 5.85 10.52" y="0" font-size="8.41" fill="#111">0.97172</text></g>
<g transform="translate(622.40,189.40)"><text transform="scale(0.9862,1)" x="-15.20 -10.52 -8.19 -3.51 1.17 5.85 10.52" y="0" font-size="8.41" fill="#111">0.97170</text></g>
<g transform="translate(660.60,189.40)"><text transform="scale(0.9862,1)" x="-15.20 -10.52 -8.19 -3.51 1.17 5.85 10.52" y="0" font-size="8.41" fill="#111">0.97170</text></g>
<g transform="translate(472.50,246.86)"><text transform="scale(1.0562,1)" x="-8.68 -3.75 3.69" y="0" font-size="15.01" fill="#111">(c)</text></g>
<line x1="3.9" y1="260.0" x2="682.3" y2="260.0" stroke="#34495a" stroke-width="1.1" stroke-dasharray="3.3 2.4 0.8 2.4" stroke-dashoffset="0.4" opacity="0.85"/>
<line x1="3.9" y1="417.0" x2="682.3" y2="417.0" stroke="#34495a" stroke-width="1.1" stroke-dasharray="3.3 2.4 0.8 2.4" stroke-dashoffset="7.3" opacity="0.85"/>
<line x1="3.9" y1="260.0" x2="3.9" y2="417.0" stroke="#34495a" stroke-width="1.1" stroke-dasharray="3.3 2.4 0.8 2.4" stroke-dashoffset="1.6" opacity="0.85"/>
<line x1="682.3" y1="260.0" x2="682.3" y2="417.0" stroke="#34495a" stroke-width="1.1" stroke-dasharray="3.3 2.4 0.8 2.4" stroke-dashoffset="3.6" opacity="0.85"/>
<line x1="83.40" y1="263.4" x2="83.40" y2="382.3" stroke="#dcdcdc" stroke-width="1"/>
<line x1="145.50" y1="263.4" x2="145.50" y2="382.3" stroke="#dcdcdc" stroke-width="1"/>
<line x1="207.60" y1="263.4" x2="207.60" y2="382.3" stroke="#dcdcdc" stroke-width="1"/>
<line x1="76.3" y1="270.01" x2="239.6" y2="270.01" stroke="#dcdcdc" stroke-width="1"/>
<line x1="76.3" y1="302.14" x2="239.6" y2="302.14" stroke="#dcdcdc" stroke-width="1"/>
<line x1="76.3" y1="334.27" x2="239.6" y2="334.27" stroke="#dcdcdc" stroke-width="1"/>
<line x1="76.3" y1="366.40" x2="239.6" y2="366.40" stroke="#dcdcdc" stroke-width="1"/>
<path d="M83.40,277.70 L102.03,338.70 L120.66,351.20 L139.29,358.50 L157.92,359.30 L176.55,361.70 L195.18,365.00 L213.81,367.60 L232.44,367.90" fill="none" stroke="#2a2a9c" stroke-width="1.05"/>
<circle cx="83.40" cy="277.70" r="1.8" fill="#12128a"/>
<circle cx="102.03" cy="338.70" r="1.8" fill="#12128a"/>
<circle cx="120.66" cy="351.20" r="1.8" fill="#12128a"/>
<circle cx="139.29" cy="358.50" r="1.8" fill="#12128a"/>
<circle cx="157.92" cy="359.30" r="1.8" fill="#12128a"/>
<circle cx="176.55" cy="361.70" r="1.8" fill="#12128a"/>
<circle cx="195.18" cy="365.00" r="1.8" fill="#12128a"/>
<circle cx="213.81" cy="367.60" r="1.8" fill="#12128a"/>
<circle cx="232.44" cy="367.90" r="1.8" fill="#12128a"/>
<path d="M83.40,268.70 L102.03,335.20 L120.66,353.40 L139.29,358.50 L157.92,362.10 L176.55,363.70 L195.18,363.70 L213.81,365.00 L232.44,365.60" fill="none" stroke="#dd3a3a" stroke-width="1.05"/>
<circle cx="83.40" cy="268.70" r="1.8" fill="#d42020"/>
<circle cx="102.03" cy="335.20" r="1.8" fill="#d42020"/>
<circle cx="120.66" cy="353.40" r="1.8" fill="#d42020"/>
<circle cx="139.29" cy="358.50" r="1.8" fill="#d42020"/>
<circle cx="157.92" cy="362.10" r="1.8" fill="#d42020"/>
<circle cx="176.55" cy="363.70" r="1.8" fill="#d42020"/>
<circle cx="195.18" cy="363.70" r="1.8" fill="#d42020"/>
<circle cx="213.81" cy="365.00" r="1.8" fill="#d42020"/>
<circle cx="232.44" cy="365.60" r="1.8" fill="#d42020"/>
<path d="M83.40,272.20 L102.03,341.70 L120.66,355.70 L139.29,361.90 L157.92,366.50 L176.55,371.10 L195.18,371.90 L213.81,374.80 L232.44,377.20" fill="none" stroke="#5aae9f" stroke-width="1.05"/>
<circle cx="83.40" cy="272.20" r="1.8" fill="#3f9e8f"/>
<circle cx="102.03" cy="341.70" r="1.8" fill="#3f9e8f"/>
<circle cx="120.66" cy="355.70" r="1.8" fill="#3f9e8f"/>
<circle cx="139.29" cy="361.90" r="1.8" fill="#3f9e8f"/>
<circle cx="157.92" cy="366.50" r="1.8" fill="#3f9e8f"/>
<circle cx="176.55" cy="371.10" r="1.8" fill="#3f9e8f"/>
<circle cx="195.18" cy="371.90" r="1.8" fill="#3f9e8f"/>
<circle cx="213.81" cy="374.80" r="1.8" fill="#3f9e8f"/>
<circle cx="232.44" cy="377.20" r="1.8" fill="#3f9e8f"/>
<rect x="76.3" y="263.4" width="163.30" height="118.90" fill="none" stroke="#8a8a8a" stroke-width="1"/>
<line x1="83.40" y1="382.3" x2="83.40" y2="384.3" stroke="#555" stroke-width="0.8"/>
<g transform="translate(83.40,395.59)"><text transform="scale(0.9862,1)" x="-3.65" y="0" font-size="13.11" fill="#111">0</text></g>
<line x1="145.50" y1="382.3" x2="145.50" y2="384.3" stroke="#555" stroke-width="0.8"/>
<g transform="translate(145.50,395.59)"><text transform="scale(0.9862,1)" x="-7.29 0.00" y="0" font-size="13.11" fill="#111">10</text></g>
<line x1="207.60" y1="382.3" x2="207.60" y2="384.3" stroke="#555" stroke-width="0.8"/>
<g transform="translate(207.60,395.59)"><text transform="scale(0.9862,1)" x="-7.29 0.00" y="0" font-size="13.11" fill="#111">20</text></g>
<line x1="74.30" y1="270.01" x2="76.3" y2="270.01" stroke="#555" stroke-width="0.8"/>
<g transform="translate(72.10,274.70)"><text transform="scale(0.9862,1)" x="-47.38 -40.09 -36.45 -29.16 -21.87 -14.58 -7.29" y="0" font-size="13.11" fill="#111">0.00025</text></g>
<line x1="74.30" y1="302.14" x2="76.3" y2="302.14" stroke="#555" stroke-width="0.8"/>
<g transform="translate(72.10,306.83)"><text transform="scale(0.9862,1)" x="-47.38 -40.09 -36.45 -29.16 -21.87 -14.58 -7.29" y="0" font-size="13.11" fill="#111">0.00020</text></g>
<line x1="74.30" y1="334.27" x2="76.3" y2="334.27" stroke="#555" stroke-width="0.8"/>
<g transform="translate(72.10,338.96)"><text transform="scale(0.9862,1)" x="-47.38 -40.09 -36.45 -29.16 -21.87 -14.58 -7.29" y="0" font-size="13.11" fill="#111">0.00015</text></g>
<line x1="74.30" y1="366.40" x2="76.3" y2="366.40" stroke="#555" stroke-width="0.8"/>
<g transform="translate(72.10,371.09)"><text transform="scale(0.9862,1)" x="-47.38 -40.09 -36.45 -29.16 -21.87 -14.58 -7.29" y="0" font-size="13.11" fill="#111">0.00010</text></g>
<g transform="translate(157.70,408.09)"><text transform="scale(0.9999,1)" x="-17.33 -9.70 -2.85 3.88 10.05" y="0" font-size="11.88" fill="#111">Epoch</text></g>
<g transform="translate(17.10,324.40) rotate(-90) translate(0,4.49)"><text transform="scale(0.8584,1)" x="-13.85 -2.82 5.59" y="0" font-size="13.05" fill="#111">MSE</text></g>
<rect x="131.4" y="269.6" width="102.30" height="55.80" rx="2" fill="#fff" fill-opacity="0.8" stroke="#dedede" stroke-width="0.9"/>
<line x1="135.10" y1="278.80" x2="159.10" y2="278.80" stroke="#2a2a9c" stroke-width="1.0"/>
<circle cx="146.90" cy="278.80" r="1.9" fill="#12128a"/>
<path d="M183.60,280.30H191.20M187.40,277.30V283.30" stroke="#111" stroke-width="1.15" fill="none"/>
<text font-style="italic" fill="#111"><tspan x="168.30" y="283.20" font-size="12.4">L</tspan><tspan x="173.80" y="285.00" font-size="8.0">R</tspan><tspan x="194.60" y="283.20" font-size="12.4">L</tspan><tspan x="200.10" y="285.00" font-size="8.0">I</tspan></text>
<line x1="135.10" y1="296.60" x2="159.10" y2="296.60" stroke="#dd3a3a" stroke-width="1.0"/>
<circle cx="146.90" cy="296.60" r="1.9" fill="#d42020"/>
<path d="M183.60,298.10H191.20M187.40,295.10V301.10" stroke="#111" stroke-width="1.15" fill="none"/>
<text font-style="italic" fill="#111"><tspan x="168.30" y="301.00" font-size="12.4">L</tspan><tspan x="173.80" y="302.80" font-size="8.0">S</tspan><tspan x="194.60" y="301.00" font-size="12.4">L</tspan><tspan x="200.10" y="302.80" font-size="8.0">I</tspan></text>
<line x1="135.10" y1="314.40" x2="159.10" y2="314.40" stroke="#5aae9f" stroke-width="1.0"/>
<circle cx="146.90" cy="314.40" r="1.9" fill="#3f9e8f"/>
<path d="M183.60,315.90H191.20M187.40,312.90V318.90" stroke="#111" stroke-width="1.15" fill="none"/>
<path d="M209.90,315.90H217.50M213.70,312.90V318.90" stroke="#111" stroke-width="1.15" fill="none"/>
<text font-style="italic" fill="#111"><tspan x="168.30" y="318.80" font-size="12.4">L</tspan><tspan x="173.80" y="320.60" font-size="8.0">S</tspan><tspan x="194.60" y="318.80" font-size="12.4">L</tspan><tspan x="200.10" y="320.60" font-size="8.0">R</tspan><tspan x="220.90" y="318.80" font-size="12.4">L</tspan><tspan x="226.40" y="320.60" font-size="8.0">I</tspan></text>
<line x1="302.00" y1="263.4" x2="302.00" y2="382.2" stroke="#dcdcdc" stroke-width="1"/>
<line x1="364.00" y1="263.4" x2="364.00" y2="382.2" stroke="#dcdcdc" stroke-width="1"/>
<line x1="426.00" y1="263.4" x2="426.00" y2="382.2" stroke="#dcdcdc" stroke-width="1"/>
<line x1="294.3" y1="286.00" x2="458.4" y2="286.00" stroke="#dcdcdc" stroke-width="1"/>
<line x1="294.3" y1="311.40" x2="458.4" y2="311.40" stroke="#dcdcdc" stroke-width="1"/>
<line x1="294.3" y1="336.80" x2="458.4" y2="336.80" stroke="#dcdcdc" stroke-width="1"/>
<line x1="294.3" y1="362.20" x2="458.4" y2="362.20" stroke="#dcdcdc" stroke-width="1"/>
<path d="M302.00,370.30 L320.60,313.20 L339.20,298.50 L357.80,289.80 L376.40,288.60 L395.00,286.40 L413.60,284.40 L432.20,282.00 L450.80,281.70" fill="none" stroke="#2a2a9c" stroke-width="1.05"/>
<circle cx="302.00" cy="370.30" r="1.8" fill="#12128a"/>
<circle cx="320.60" cy="313.20" r="1.8" fill="#12128a"/>
<circle cx="339.20" cy="298.50" r="1.8" fill="#12128a"/>
<circle cx="357.80" cy="289.80" r="1.8" fill="#12128a"/>
<circle cx="376.40" cy="288.60" r="1.8" fill="#12128a"/>
<circle cx="395.00" cy="286.40" r="1.8" fill="#12128a"/>
<circle cx="413.60" cy="284.40" r="1.8" fill="#12128a"/>
<circle cx="432.20" cy="282.00" r="1.8" fill="#12128a"/>
<circle cx="450.80" cy="281.70" r="1.8" fill="#12128a"/>
<path d="M302.00,377.40 L320.60,317.30 L339.20,296.30 L357.80,290.10 L376.40,286.20 L395.00,285.40 L413.60,286.40 L432.20,285.40 L450.80,284.80" fill="none" stroke="#dd3a3a" stroke-width="1.05"/>
<circle cx="302.00" cy="377.40" r="1.8" fill="#d42020"/>
<circle cx="320.60" cy="317.30" r="1.8" fill="#d42020"/>
<circle cx="339.20" cy="296.30" r="1.8" fill="#d42020"/>
<circle cx="357.80" cy="290.10" r="1.8" fill="#d42020"/>
<circle cx="376.40" cy="286.20" r="1.8" fill="#d42020"/>
<circle cx="395.00" cy="285.40" r="1.8" fill="#d42020"/>
<circle cx="413.60" cy="286.40" r="1.8" fill="#d42020"/>
<circle cx="432.20" cy="285.40" r="1.8" fill="#d42020"/>
<circle cx="450.80" cy="284.80" r="1.8" fill="#d42020"/>
<path d="M302.00,375.90 L320.60,310.30 L339.20,293.70 L357.80,287.10 L376.40,282.40 L395.00,276.70 L413.60,275.20 L432.20,272.30 L450.80,268.70" fill="none" stroke="#5aae9f" stroke-width="1.05"/>
<circle cx="302.00" cy="375.90" r="1.8" fill="#3f9e8f"/>
<circle cx="320.60" cy="310.30" r="1.8" fill="#3f9e8f"/>
<circle cx="339.20" cy="293.70" r="1.8" fill="#3f9e8f"/>
<circle cx="357.80" cy="287.10" r="1.8" fill="#3f9e8f"/>
<circle cx="376.40" cy="282.40" r="1.8" fill="#3f9e8f"/>
<circle cx="395.00" cy="276.70" r="1.8" fill="#3f9e8f"/>
<circle cx="413.60" cy="275.20" r="1.8" fill="#3f9e8f"/>
<circle cx="432.20" cy="272.30" r="1.8" fill="#3f9e8f"/>
<circle cx="450.80" cy="268.70" r="1.8" fill="#3f9e8f"/>
<rect x="294.3" y="263.4" width="164.10" height="118.80" fill="none" stroke="#8a8a8a" stroke-width="1"/>
<line x1="302.00" y1="382.2" x2="302.00" y2="384.2" stroke="#555" stroke-width="0.8"/>
<g transform="translate(302.00,395.59)"><text transform="scale(0.9862,1)" x="-3.65" y="0" font-size="13.11" fill="#111">0</text></g>
<line x1="364.00" y1="382.2" x2="364.00" y2="384.2" stroke="#555" stroke-width="0.8"/>
<g transform="translate(364.00,395.59)"><text transform="scale(0.9862,1)" x="-7.29 0.00" y="0" font-size="13.11" fill="#111">10</text></g>
<line x1="426.00" y1="382.2" x2="426.00" y2="384.2" stroke="#555" stroke-width="0.8"/>
<g transform="translate(426.00,395.59)"><text transform="scale(0.9862,1)" x="-7.29 0.00" y="0" font-size="13.11" fill="#111">20</text></g>
<line x1="292.30" y1="286.00" x2="294.3" y2="286.00" stroke="#555" stroke-width="0.8"/>
<g transform="translate(290.10,290.69)"><text transform="scale(0.9862,1)" x="-14.58 -7.29" y="0" font-size="13.11" fill="#111">40</text></g>
<line x1="292.30" y1="311.40" x2="294.3" y2="311.40" stroke="#555" stroke-width="0.8"/>
<g transform="translate(290.10,316.09)"><text transform="scale(0.9862,1)" x="-14.58 -7.29" y="0" font-size="13.11" fill="#111">39</text></g>
<line x1="292.30" y1="336.80" x2="294.3" y2="336.80" stroke="#555" stroke-width="0.8"/>
<g transform="translate(290.10,341.49)"><text transform="scale(0.9862,1)" x="-14.58 -7.29" y="0" font-size="13.11" fill="#111">38</text></g>
<line x1="292.30" y1="362.20" x2="294.3" y2="362.20" stroke="#555" stroke-width="0.8"/>
<g transform="translate(290.10,366.89)"><text transform="scale(0.9862,1)" x="-14.58 -7.29" y="0" font-size="13.11" fill="#111">37</text></g>
<g transform="translate(376.00,408.09)"><text transform="scale(0.9999,1)" x="-17.33 -9.70 -2.85 3.88 10.05" y="0" font-size="11.88" fill="#111">Epoch</text></g>
<g transform="translate(267.50,322.50) rotate(-90) translate(0,4.49)"><text transform="scale(0.9008,1)" x="-32.81 -24.97 -16.58 -7.45 1.85 5.97 11.00 18.64 27.63" y="0" font-size="13.05" fill="#111">PSNR (dB)</text></g>
<rect x="349.5" y="321.0" width="102.70" height="55.60" rx="2" fill="#fff" fill-opacity="0.8" stroke="#dedede" stroke-width="0.9"/>
<line x1="353.20" y1="330.20" x2="377.20" y2="330.20" stroke="#2a2a9c" stroke-width="1.0"/>
<circle cx="365.00" cy="330.20" r="1.9" fill="#12128a"/>
<path d="M401.70,331.70H409.30M405.50,328.70V334.70" stroke="#111" stroke-width="1.15" fill="none"/>
<text font-style="italic" fill="#111"><tspan x="386.40" y="334.60" font-size="12.4">L</tspan><tspan x="391.90" y="336.40" font-size="8.0">R</tspan><tspan x="412.70" y="334.60" font-size="12.4">L</tspan><tspan x="418.20" y="336.40" font-size="8.0">I</tspan></text>
<line x1="353.20" y1="348.00" x2="377.20" y2="348.00" stroke="#dd3a3a" stroke-width="1.0"/>
<circle cx="365.00" cy="348.00" r="1.9" fill="#d42020"/>
<path d="M401.70,349.50H409.30M405.50,346.50V352.50" stroke="#111" stroke-width="1.15" fill="none"/>
<text font-style="italic" fill="#111"><tspan x="386.40" y="352.40" font-size="12.4">L</tspan><tspan x="391.90" y="354.20" font-size="8.0">S</tspan><tspan x="412.70" y="352.40" font-size="12.4">L</tspan><tspan x="418.20" y="354.20" font-size="8.0">I</tspan></text>
<line x1="353.20" y1="365.80" x2="377.20" y2="365.80" stroke="#5aae9f" stroke-width="1.0"/>
<circle cx="365.00" cy="365.80" r="1.9" fill="#3f9e8f"/>
<path d="M401.70,367.30H409.30M405.50,364.30V370.30" stroke="#111" stroke-width="1.15" fill="none"/>
<path d="M428.00,367.30H435.60M431.80,364.30V370.30" stroke="#111" stroke-width="1.15" fill="none"/>
<text font-style="italic" fill="#111"><tspan x="386.40" y="370.20" font-size="12.4">L</tspan><tspan x="391.90" y="372.00" font-size="8.0">S</tspan><tspan x="412.70" y="370.20" font-size="12.4">L</tspan><tspan x="418.20" y="372.00" font-size="8.0">R</tspan><tspan x="439.00" y="370.20" font-size="12.4">L</tspan><tspan x="444.50" y="372.00" font-size="8.0">I</tspan></text>
<line x1="520.50" y1="263.4" x2="520.50" y2="382.1" stroke="#dcdcdc" stroke-width="1"/>
<line x1="582.50" y1="263.4" x2="582.50" y2="382.1" stroke="#dcdcdc" stroke-width="1"/>
<line x1="644.50" y1="263.4" x2="644.50" y2="382.1" stroke="#dcdcdc" stroke-width="1"/>
<line x1="513.0" y1="282.00" x2="677.0" y2="282.00" stroke="#dcdcdc" stroke-width="1"/>
<line x1="513.0" y1="311.95" x2="677.0" y2="311.95" stroke="#dcdcdc" stroke-width="1"/>
<line x1="513.0" y1="341.90" x2="677.0" y2="341.90" stroke="#dcdcdc" stroke-width="1"/>
<line x1="513.0" y1="371.85" x2="677.0" y2="371.85" stroke="#dcdcdc" stroke-width="1"/>
<path d="M520.50,342.50 L539.10,289.50 L557.70,277.00 L576.30,273.50 L594.90,271.40 L613.50,271.40 L632.10,271.40 L650.70,271.40 L669.30,272.10" fill="none" stroke="#2a2a9c" stroke-width="1.05"/>
<circle cx="520.50" cy="342.50" r="1.8" fill="#12128a"/>
<circle cx="539.10" cy="289.50" r="1.8" fill="#12128a"/>
<circle cx="557.70" cy="277.00" r="1.8" fill="#12128a"/>
<circle cx="576.30" cy="273.50" r="1.8" fill="#12128a"/>
<circle cx="594.90" cy="271.40" r="1.8" fill="#12128a"/>
<circle cx="613.50" cy="271.40" r="1.8" fill="#12128a"/>
<circle cx="632.10" cy="271.40" r="1.8" fill="#12128a"/>
<circle cx="650.70" cy="271.40" r="1.8" fill="#12128a"/>
<circle cx="669.30" cy="272.10" r="1.8" fill="#12128a"/>
<path d="M520.50,377.10 L539.10,290.30 L557.70,278.10 L576.30,274.80 L594.90,273.40 L613.50,273.40 L632.10,275.50 L650.70,276.10 L669.30,276.40" fill="none" stroke="#dd3a3a" stroke-width="1.05"/>
<circle cx="520.50" cy="377.10" r="1.8" fill="#d42020"/>
<circle cx="539.10" cy="290.30" r="1.8" fill="#d42020"/>
<circle cx="557.70" cy="278.10" r="1.8" fill="#d42020"/>
<circle cx="576.30" cy="274.80" r="1.8" fill="#d42020"/>
<circle cx="594.90" cy="273.40" r="1.8" fill="#d42020"/>
<circle cx="613.50" cy="273.40" r="1.8" fill="#d42020"/>
<circle cx="632.10" cy="275.50" r="1.8" fill="#d42020"/>
<circle cx="650.70" cy="276.10" r="1.8" fill="#d42020"/>
<circle cx="669.30" cy="276.40" r="1.8" fill="#d42020"/>
<path d="M520.50,348.60 L539.10,288.10 L557.70,276.30 L576.30,273.20 L594.90,270.60 L613.50,269.20 L632.10,269.90 L650.70,268.40 L669.30,268.50" fill="none" stroke="#5aae9f" stroke-width="1.05"/>
<circle cx="520.50" cy="348.60" r="1.8" fill="#3f9e8f"/>
<circle cx="539.10" cy="288.10" r="1.8" fill="#3f9e8f"/>
<circle cx="557.70" cy="276.30" r="1.8" fill="#3f9e8f"/>
<circle cx="576.30" cy="273.20" r="1.8" fill="#3f9e8f"/>
<circle cx="594.90" cy="270.60" r="1.8" fill="#3f9e8f"/>
<circle cx="613.50" cy="269.20" r="1.8" fill="#3f9e8f"/>
<circle cx="632.10" cy="269.90" r="1.8" fill="#3f9e8f"/>
<circle cx="650.70" cy="268.40" r="1.8" fill="#3f9e8f"/>
<circle cx="669.30" cy="268.50" r="1.8" fill="#3f9e8f"/>
<rect x="513.0" y="263.4" width="164.00" height="118.70" fill="none" stroke="#8a8a8a" stroke-width="1"/>
<line x1="520.50" y1="382.1" x2="520.50" y2="384.1" stroke="#555" stroke-width="0.8"/>
<g transform="translate(520.50,395.59)"><text transform="scale(0.9862,1)" x="-3.65" y="0" font-size="13.11" fill="#111">0</text></g>
<line x1="582.50" y1="382.1" x2="582.50" y2="384.1" stroke="#555" stroke-width="0.8"/>
<g transform="translate(582.50,395.59)"><text transform="scale(0.9862,1)" x="-7.29 0.00" y="0" font-size="13.11" fill="#111">10</text></g>
<line x1="644.50" y1="382.1" x2="644.50" y2="384.1" stroke="#555" stroke-width="0.8"/>
<g transform="translate(644.50,395.59)"><text transform="scale(0.9862,1)" x="-7.29 0.00" y="0" font-size="13.11" fill="#111">20</text></g>
<line x1="511.00" y1="282.00" x2="513.0" y2="282.00" stroke="#555" stroke-width="0.8"/>
<g transform="translate(508.80,286.69)"><text transform="scale(0.9862,1)" x="-25.51 -18.22 -14.58 -7.29" y="0" font-size="13.11" fill="#111">0.96</text></g>
<line x1="511.00" y1="311.95" x2="513.0" y2="311.95" stroke="#555" stroke-width="0.8"/>
<g transform="translate(508.80,316.64)"><text transform="scale(0.9862,1)" x="-25.51 -18.22 -14.58 -7.29" y="0" font-size="13.11" fill="#111">0.95</text></g>
<line x1="511.00" y1="341.90" x2="513.0" y2="341.90" stroke="#555" stroke-width="0.8"/>
<g transform="translate(508.80,346.59)"><text transform="scale(0.9862,1)" x="-25.51 -18.22 -14.58 -7.29" y="0" font-size="13.11" fill="#111">0.94</text></g>
<line x1="511.00" y1="371.85" x2="513.0" y2="371.85" stroke="#555" stroke-width="0.8"/>
<g transform="translate(508.80,376.54)"><text transform="scale(0.9862,1)" x="-25.51 -18.22 -14.58 -7.29" y="0" font-size="13.11" fill="#111">0.93</text></g>
<g transform="translate(594.80,408.09)"><text transform="scale(0.9999,1)" x="-17.33 -9.70 -2.85 3.88 10.05" y="0" font-size="11.88" fill="#111">Epoch</text></g>
<g transform="translate(475.60,324.60) rotate(-90) translate(0,4.49)"><text transform="scale(0.8672,1)" x="-16.13 -7.79 0.86 4.85" y="0" font-size="13.05" fill="#111">SSIM</text></g>
<rect x="567.7" y="320.6" width="102.70" height="55.50" rx="2" fill="#fff" fill-opacity="0.8" stroke="#dedede" stroke-width="0.9"/>
<line x1="571.40" y1="329.80" x2="595.40" y2="329.80" stroke="#2a2a9c" stroke-width="1.0"/>
<circle cx="583.20" cy="329.80" r="1.9" fill="#12128a"/>
<path d="M619.90,331.30H627.50M623.70,328.30V334.30" stroke="#111" stroke-width="1.15" fill="none"/>
<text font-style="italic" fill="#111"><tspan x="604.60" y="334.20" font-size="12.4">L</tspan><tspan x="610.10" y="336.00" font-size="8.0">R</tspan><tspan x="630.90" y="334.20" font-size="12.4">L</tspan><tspan x="636.40" y="336.00" font-size="8.0">I</tspan></text>
<line x1="571.40" y1="347.60" x2="595.40" y2="347.60" stroke="#dd3a3a" stroke-width="1.0"/>
<circle cx="583.20" cy="347.60" r="1.9" fill="#d42020"/>
<path d="M619.90,349.10H627.50M623.70,346.10V352.10" stroke="#111" stroke-width="1.15" fill="none"/>
<text font-style="italic" fill="#111"><tspan x="604.60" y="352.00" font-size="12.4">L</tspan><tspan x="610.10" y="353.80" font-size="8.0">S</tspan><tspan x="630.90" y="352.00" font-size="12.4">L</tspan><tspan x="636.40" y="353.80" font-size="8.0">I</tspan></text>
<line x1="571.40" y1="365.40" x2="595.40" y2="365.40" stroke="#5aae9f" stroke-width="1.0"/>
<circle cx="583.20" cy="365.40" r="1.9" fill="#3f9e8f"/>
<path d="M619.90,366.90H627.50M623.70,363.90V369.90" stroke="#111" stroke-width="1.15" fill="none"/>
<path d="M646.20,366.90H653.80M650.00,363.90V369.90" stroke="#111" stroke-width="1.15" fill="none"/>
<text font-style="italic" fill="#111"><tspan x="604.60" y="369.80" font-size="12.4">L</tspan><tspan x="610.10" y="371.60" font-size="8.0">S</tspan><tspan x="630.90" y="369.80" font-size="12.4">L</tspan><tspan x="636.40" y="371.60" font-size="8.0">R</tspan><tspan x="657.20" y="369.80" font-size="12.4">L</tspan><tspan x="662.70" y="371.60" font-size="8.0">I</tspan></text>
<g transform="translate(16.60,400.92)"><text transform="scale(1.0720,1)" x="-10.13 -4.62 4.59" y="0" font-size="16.63" fill="#111">(d)</text></g>
</svg></body></html>
